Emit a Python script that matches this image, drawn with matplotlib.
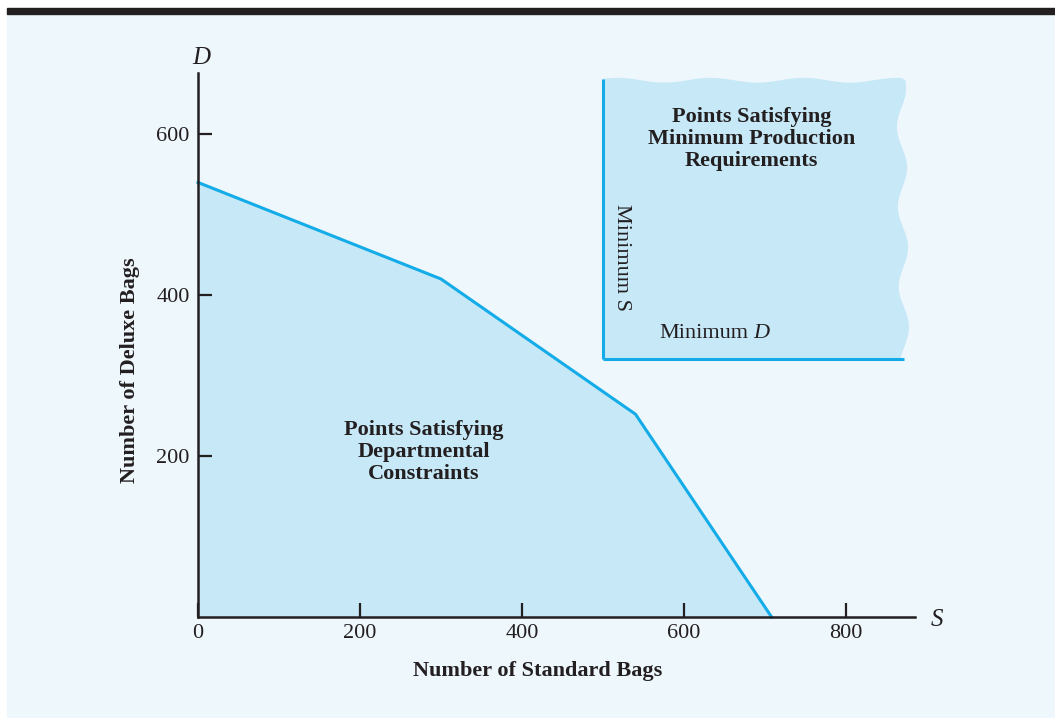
import matplotlib
matplotlib.use("Agg")
import matplotlib.pyplot as plt
import numpy as np

# corner points of the departmental-constraints region (S, D)
region_s = [0, 0, 300, 540, 708]
region_d = [0, 540, 420, 252, 0]

# minimum production requirements
min_s = 500
min_d = 320
box_top = 667
box_right = 868

x_ticks = [0, 200, 400, 600, 800]
y_ticks = [200, 400, 600]

BG = "#eef7fc"
FILL = "#c6e8f7"
LINE = "#14ace8"
INK = "#231f20"

plt.rcParams["font.family"] = ["Liberation Serif", "DejaVu Serif"]

W, H = 1055, 718
fig = plt.figure(figsize=(W / 100, H / 100), dpi=100)
fig.patch.set_facecolor("white")
# light panel and dark band on top
fig.patches.append(plt.Rectangle((7 / W, 1 / H), 1 - 7 / W, 1 - 15 / H,
                                 transform=fig.transFigure, color=BG, zorder=-2))
fig.patches.append(plt.Rectangle((7 / W, 1 - 14 / H), 1 - 7 / W, 6 / H,
                                 transform=fig.transFigure, color=INK, zorder=-2))

ax = fig.add_axes([198 / W, (H - 617) / H, 717 / W, 544 / H])
ax.patch.set_alpha(0)
ax.set_xlim(0, 885)
ax.set_ylim(0, 676)

# departmental region
ax.fill(region_s + [0], region_d + [0], color=FILL, lw=0, zorder=1)
ax.plot(region_s[1:], region_d[1:], color=LINE, lw=2.2, zorder=2,
        solid_joinstyle="miter", clip_on=False)

# minimum production box with torn (wavy) top and right edges
t = np.linspace(0, 1, 200)
top_x = min_s + t * (box_right - min_s)
top_y = box_top + 3 * np.sin(t * 2 * np.pi * 3.2 + 0.6)
r = np.linspace(0, 1, 200)
right_y = box_top - r * (box_top - min_d)
right_x = box_right + 6 * np.sin(r * 2 * np.pi * 3.5 + 1.0) + 4 * r
bx = np.concatenate([[min_s], top_x, right_x, [box_right + 10, min_s]])
by = np.concatenate([[box_top], top_y, right_y, [min_d, min_d]])
ax.fill(bx, by, color=FILL, lw=0, zorder=1, clip_on=False)
ax.plot([min_s, min_s], [box_top + 2, min_d], color=LINE, lw=2.2, zorder=2,
        solid_capstyle="butt", clip_on=False)
ax.plot([min_s, box_right + 4], [min_d, min_d], color=LINE, lw=2.2, zorder=2,
        solid_capstyle="butt", clip_on=False)

# axes styling
for side in ["top", "right"]:
    ax.spines[side].set_visible(False)
for side in ["left", "bottom"]:
    ax.spines[side].set_color(INK)
    ax.spines[side].set_linewidth(1.8)
    ax.spines[side].set_zorder(3)
ax.set_xticks(x_ticks)
ax.set_yticks(y_ticks)
ax.tick_params(direction="in", length=10, width=1.6, color=INK, labelcolor=INK,
               labelsize=16, pad=6)
ax.tick_params(axis="x", pad=5)

ax.text(904, -4, "S", fontsize=18, style="italic", color=INK, va="center", ha="left",
        clip_on=False)
ax.text(4, 695, "D", fontsize=18, style="italic", color=INK, va="center", ha="center",
        clip_on=False)

ax.set_xlabel("Number of Standard Bags", fontsize=16, fontweight="bold", color=INK)
ax.xaxis.set_label_coords(0.473, -0.099)
ax.xaxis.label.set_va("center")
ax.set_ylabel("Number of Deluxe Bags", fontsize=16, fontweight="bold", color=INK)
ax.yaxis.set_label_coords(-0.095, 0.454)
ax.yaxis.label.set_va("center")

ax.text(279, 205, "Points Satisfying\nDepartmental\nConstraints", fontsize=16,
        fontweight="bold", color=INK, ha="center", va="center", linespacing=1.12)
ax.text(683, 594, "Points Satisfying\nMinimum Production\nRequirements", fontsize=16,
        fontweight="bold", color=INK, ha="center", va="center", linespacing=1.12)
ax.text(523, 447, "Minimum S", fontsize=16, color=INK, rotation=-90,
        ha="center", va="center")
ax.text(569, 352, "Minimum", fontsize=16, color=INK, ha="left", va="center")
ax.text(685, 352, "D", fontsize=16, color=INK, style="italic", ha="left", va="center")

fig.savefig("out.png", dpi=100, facecolor="white")
